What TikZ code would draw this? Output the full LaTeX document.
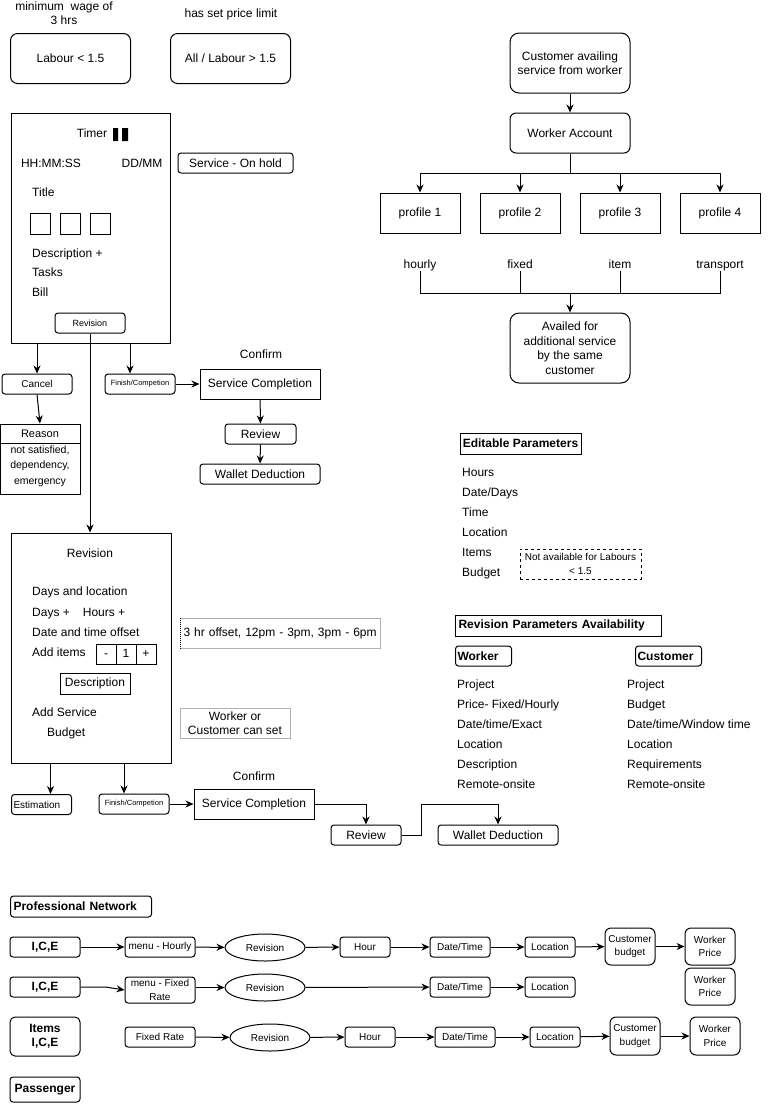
\documentclass[tikz,border=0pt]{standalone}
\usepackage{fontspec}
\setmainfont{Liberation Sans}
\usetikzlibrary{arrows.meta,shapes.geometric}
\tikzset{
  every node/.style={font=\fontsize{12}{14.5}\selectfont,inner sep=0pt},
  wh/.style 2 args={minimum width=#1,minimum height=#2},
  sbox/.style={draw,line width=1pt},
  rbox/.style={draw,line width=1pt,rounded corners=3pt},
  txtten/.style={font=\fontsize{10}{13.5}\selectfont},
  txtnine/.style={font=\fontsize{9}{11}\selectfont},
  txteight/.style={font=\fontsize{7.5}{9}\selectfont},
  boldtxt/.style={font=\fontsize{12}{14.5}\selectfont\bfseries},
  lst/.style={anchor=west,text height=9pt,text depth=3pt},
  ln/.style={line width=1pt},
  arr/.style={->,>={Stealth[length=8pt,width=7pt]},line width=1pt},
}
\begin{document}
\begin{tikzpicture}[x=1pt,y=-1pt]
\useasboundingbox (0,0) rectangle (771,1104);
% labour limits
\node[align=center] (minwage) at (64,13) {minimum\ \ wage of\\3 hrs};
\node (pricelim) at (231,14) {has set price limit};
\node[rbox,wh={120}{50},rounded corners=7pt] (labourlow) at (70.5,58.5) {Labour < 1.5};
\node[rbox,wh={120}{50},rounded corners=7pt] (labourhigh) at (230.5,58.5) {All / Labour > 1.5};

% service card
\node[sbox,wh={159}{230}] (card) at (90.5,228) {};
\node (timer) at (92,133) {Timer};
\fill (113,128) rectangle (118,141) (122,128) rectangle (128,141); % pause
\node (hms) at (51,163) {HH:MM:SS};
\node (ddmm) at (142,163) {DD/MM};
\node[rbox,wh={115}{20}] (onhold) at (235.5,163) {Service - On hold};
\node[lst] (title) at (32,193) {Title};
\foreach \i in {0,1,2} \draw[ln] (30+30*\i,213) rectangle ++(20,21);
\node[lst] (desc) at (32,254) {Description +};
\node[lst] (tasks) at (32,273) {Tasks};
\node[lst] (bill) at (32,293) {Bill};
\node[rbox,wh={70}{20},txtnine] (rev1) at (90,323) {Revision};

% cancel
\node[rbox,wh={70}{20},txtten] (cancel) at (37,384) {Cancel};
\node[sbox,wh={80}{70}] (reason) at (40,459) {};
\draw[ln] ([yshift=-20]reason.north west) -- ([yshift=-20]reason.north east);
\node[font=\fontsize{11}{13}\selectfont] (reasontit) at (40,434) {Reason};
\node[align=center,font=\fontsize{10.5}{15.5}\selectfont] (reasontxt) at (40,466) {not satisfied,\\dependency,\\emergency};
\draw[arr] (card.south -| cancel.north) -- (cancel.north);
\draw[arr] (cancel.south) -- (reason.north);

% finish
\node[rbox,wh={70}{20},txteight] (fin1) at (140,384) {Finish/Competion};
\draw[arr] ([xshift=-10]fin1.north |- card.south) -- ([xshift=-10]fin1.north);
\node (confirm1) at (261,354) {Confirm};
\node[sbox,wh={120}{30}] (done1) at (260,384) {Service Completion};
\node[rbox,wh={71}{20}] (review1) at (260.5,434) {Review};
\node[rbox,wh={120}{20}] (wallet1) at (260,474) {Wallet Deduction};
\draw[arr] (fin1) -- (done1);
\draw[arr] (done1) -- (review1);
\draw[arr] (review1) -- (wallet1);

% revision card
\node[sbox,wh={160}{230}] (card2) at (91,648) {};
\draw[arr] (rev1.south) -- (rev1.south |- card2.north);
\node (revtit) at (90,553) {Revision};
\node[lst] (dayloc) at (32,592) {Days and location};
\node[lst] (dayhour) at (32,613) {Days +\hspace{13pt}Hours +};
\node[lst] (offsettxt) at (32,633) {Date and time offset};
\node[lst] (additems) at (32,653) {Add items};
\foreach \n/\x/\t in {minus/106/-,one/126/1,plus/146/+}
  \node[sbox,wh={20}{20},text height=9pt,text depth=3pt] (\n) at (\x,654) {\t};
\node[sbox,wh={70}{21},text height=9pt,text depth=3pt] (descbox) at (95,683.5) {Description};
\node[lst] (addserv) at (32,713) {Add Service};
\node[lst] (budget) at (47,733) {Budget};

\node[draw=gray!60,line width=1pt,minimum height=30,anchor=west,inner xsep=3pt,text width=194pt] (offset) at (180,633) {3 hr offset, 12pm - 3pm, 3pm - 6pm};
\draw[white,line width=1.2pt] (offset.north west) -- (offset.south west);
\draw[densely dotted,line width=1pt] (offset.north west) -- (offset.south west);
\node[draw=gray!60,line width=1pt,wh={110}{30},align=center] (whoset) at (235,723) {Worker or\\Customer can set};

% estimation / finish
\node[rbox,wh={60}{20},txtten,anchor=west,inner xsep=2pt,text width=56pt] (estim) at (11,804.5) {Estimation};
\draw[arr] ([xshift=9]estim.north |- card2.south) -- ([xshift=9]estim.north);
\node[rbox,wh={70}{20},txteight] (fin2) at (134,804) {Finish/Competion};
\draw[arr] ([xshift=-10]fin2.north |- card2.south) -- ([xshift=-10]fin2.north);
\node (confirm2) at (254,776) {Confirm};
\node[sbox,wh={120}{30}] (done2) at (254,804) {Service Completion};
\node[rbox,wh={70}{20}] (review2) at (366,835) {Review};
\node[rbox,wh={120}{20}] (wallet2) at (498,835) {Wallet Deduction};
\coordinate (bend2) at (421,804);
\draw[arr] (fin2) -- (done2);
\draw[arr] (done2.east) -| (review2.north);
\draw[arr] (review2.east) -| (bend2) -| (wallet2.north);

% worker account
\node[rbox,wh={120}{60},rounded corners=9pt,align=center] (cust) at (570,63) {Customer availing\\service from worker};
\node[rbox,wh={120}{40},rounded corners=6pt] (wacc) at (570,133) {Worker Account};
\draw[arr] (cust) -- (wacc);
\coordinate (split) at (570,173);
\draw[ln] (wacc.south) -- (split);
\foreach \n/\x/\t in {1/420/hourly,2/520/fixed,3/620/item,4/720/transport}{
  \node[sbox,wh={80}{40}] (prof\n) at (\x,213) {profile \n};
  \node[text height=9pt,text depth=3pt] (rate\n) at (\x,265) {\t};
  \draw[arr] (split) -| (prof\n.north);
}
\coordinate (join) at (570,293);
\foreach \n in {1,...,4} \draw[ln] (rate\n.south) |- (join);
\node[rbox,wh={120}{70},rounded corners=9pt,align=center] (availed) at (570,348) {Availed for\\additional service\\by the same\\customer};
\draw[arr] (join) -- (availed.north);

% editable parameters
\node[sbox,wh={121}{21},boldtxt] (editp) at (520.5,443.5) {Editable Parameters};
\foreach \t [count=\i] in {Hours,Date/Days,Time,Location,Items,Budget}
  \node[lst] (ep\i) at (462,453+20*\i) {\t};
\node[draw,dash pattern=on 3pt off 3pt,line width=1pt,wh={121}{30},txtten,align=center] (notlab) at (580.5,564) {Not available for Labours\\< 1.5};

% revision parameters
\node[sbox,wh={206}{21},boldtxt,anchor=west,inner xsep=3pt,text width=200pt] (revpar) at (455,625.5) {Revision Parameters Availability};
\node[rbox,wh={56}{20},boldtxt,anchor=west,inner xsep=2pt,text width=52pt] (wrk) at (455,656) {Worker};
\node[rbox,wh={66}{20},boldtxt,anchor=west,inner xsep=2pt,text width=62pt] (cst) at (635,656) {Customer};
\foreach \t [count=\i] in {Project,Price- Fixed/Hourly,Date/time/Exact,Location,Description,Remote-onsite}
  \node[lst] (wp\i) at (457,665+20*\i) {\t};
\foreach \t [count=\i] in {Project,Budget,Date/time/Window time,Location,Requirements,Remote-onsite}
  \node[lst] (cp\i) at (627,665+20*\i) {\t};

% professional network
\node[rbox,wh={141}{21},boldtxt,anchor=west,inner xsep=3pt,text width=135pt] (profnet) at (10,906.5) {Professional Network};
\tikzset{rev/.style={draw,ellipse,line width=1pt,wh={80}{27},txtten},
  cell/.style={rbox,txtten},
  tall/.style={rbox,rounded corners=6pt,wh={50}{37},txtten,align=center}}
% row hourly
\node[rbox,wh={70}{20},boldtxt] (ice1) at (45,947) {I,C,E};
\node[cell,wh={70}{20}] (menuh) at (160,947) {menu - Hourly};
\node[rev] (revh) at (265,947.5) {Revision};
\node[cell,wh={50}{20}] (hourh) at (365,947) {Hour};
\node[cell,wh={60}{20}] (dateh) at (460,947) {Date/Time};
\node[cell,wh={50}{20}] (loch) at (550,947) {Location};
\node[tall] (budh) at (630,946.5) {Customer\\budget};
\node[tall] (priceh) at (710,946.5) {Worker\\Price};
\foreach \a/\b in {ice1/menuh,menuh/revh,revh/hourh,hourh/dateh,dateh/loch,loch/budh,budh/priceh}
  \draw[arr] (\a) -- (\b);
% row fixed
\node[rbox,wh={70}{20},boldtxt] (ice2) at (45,987) {I,C,E};
\node[cell,wh={70}{26},align=center,font=\fontsize{10}{14}\selectfont] (menuf) at (160,990) {menu - Fixed\\Rate};
\node[rev] (revf) at (265,987.5) {Revision};
\node[cell,wh={60}{20}] (datef) at (460,987) {Date/Time};
\node[cell,wh={50}{20}] (locf) at (550,987) {Location};
\node[tall] (pricef) at (710,986.5) {Worker\\Price};
\draw[arr] (ice2.east) -- ++(25,0) -- (menuf.west);
\draw[arr] (menuf.east |- revf) -- (revf);
\draw[arr] (revf) -- (datef);
\draw[arr] (datef) -- (locf);
% row items
\node[rbox,wh={70}{39},boldtxt,align=center,rounded corners=5pt] (items) at (45,1036.5) {Items\\I,C,E};
\node[cell,wh={70}{20}] (fixr) at (160,1037) {Fixed Rate};
\node[rev] (revi) at (270,1037.5) {Revision};
\node[cell,wh={50}{20}] (houri) at (370,1037) {Hour};
\node[cell,wh={60}{20}] (datei) at (465,1037) {Date/Time};
\node[cell,wh={50}{20}] (loci) at (555,1037) {Location};
\node[tall,wh={50}{38}] (budi) at (635,1036) {Customer\\budget};
\node[tall,wh={50}{38}] (pricei) at (715,1036) {Worker\\Price};
\foreach \a/\b in {fixr/revi,revi/houri,houri/datei,datei/loci,loci/budi,budi/pricei}
  \draw[arr] (\a) -- (\b);
\node[rbox,wh={70}{25},boldtxt] (passenger) at (45,1089.5) {Passenger};
\end{tikzpicture}
\end{document}
